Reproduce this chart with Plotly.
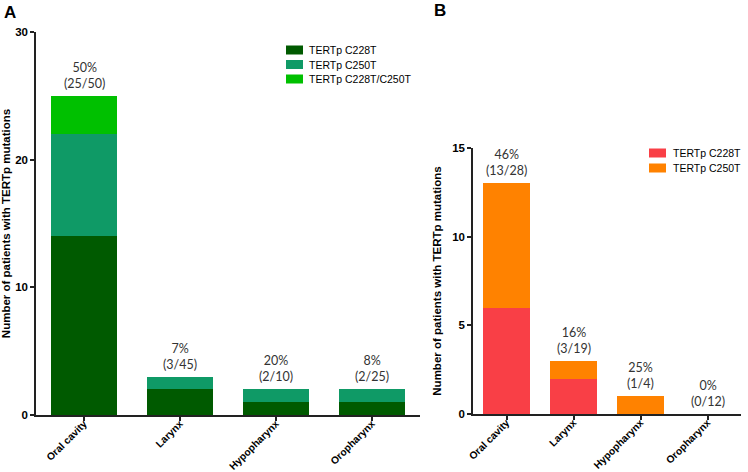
import plotly.graph_objects as go

W, H = 748, 472

sites = ["Oral cavity", "Larynx", "Hypopharynx", "Oropharynx"]

# Panel A
a_names = ["TERTp C228T", "TERTp C250T", "TERTp C228T/C250T"]
a_c228t = [14, 2, 1, 1]
a_c250t = [8, 1, 1, 1]
a_both = [3, 0, 0, 0]
a_pct = ["50%", "7%", "20%", "8%"]
a_frac = ["(25/50)", "(3/45)", "(2/10)", "(2/25)"]

# Panel B
b_names = ["TERTp C228T", "TERTp C250T"]
b_c228t = [6, 2, 0, 0]
b_c250t = [7, 1, 1, 0]
b_pct = ["46%", "16%", "25%", "0%"]
b_frac = ["(13/28)", "(3/19)", "(1/4)", "(0/12)"]

col_a = ["#005a00", "#0f9a66", "#00c000"]
col_b = ["#f93f46", "#ff8200"]


def px_x(p):
    return p / W


def px_y(p):
    return (H - p) / H


fig = go.Figure()
for vals, nm, c in zip([a_c228t, a_c250t, a_both], a_names, col_a):
    fig.add_trace(go.Bar(x=sites, y=vals, name=nm, marker_color=c, xaxis="x", yaxis="y",
                         width=0.69, marker_line_width=0, showlegend=False))
for vals, nm, c in zip([b_c228t, b_c250t], b_names, col_b):
    fig.add_trace(go.Bar(x=sites, y=vals, name=nm, marker_color=c, xaxis="x2", yaxis="y2",
                         width=0.69, marker_line_width=0, showlegend=False))

ann_font = dict(family="Lato, Open Sans, sans-serif", size=12.5, color="#333333")
annotations = []
for i, s in enumerate(sites):
    tot = a_c228t[i] + a_c250t[i] + a_both[i]
    annotations.append(dict(x=s, y=tot, xref="x", yref="y", text=a_pct[i] + "<br>" + a_frac[i],
                            showarrow=False, yanchor="bottom", yshift=3, font=ann_font))
    totb = b_c228t[i] + b_c250t[i]
    annotations.append(dict(x=s, y=totb, xref="x2", yref="y2", text=b_pct[i] + "<br>" + b_frac[i],
                            showarrow=False, yanchor="bottom", yshift=3, font=ann_font))

panel_font = dict(family="Arial, Liberation Sans", size=17, color="#000")
annotations.append(dict(x=px_x(2), y=px_y(1), xref="paper", yref="paper", text="<b>A</b>",
                        showarrow=False, xanchor="left", yanchor="top", font=panel_font))
annotations.append(dict(x=px_x(432), y=px_y(-1), xref="paper", yref="paper", text="<b>B</b>",
                        showarrow=False, xanchor="left", yanchor="top", font=panel_font))

# manual legends (swatch + label)
leg_font = dict(family="Arial, Liberation Sans", size=10.5, color="#000")
shapes = []
for k, (nm, c) in enumerate(zip(a_names, col_a)):
    yc = 50 + 14.5 * k
    shapes.append(dict(type="rect", xref="paper", yref="paper", x0=px_x(286), x1=px_x(303),
                       y0=px_y(yc + 4.5), y1=px_y(yc - 4.5), fillcolor=c, line_width=0))
    annotations.append(dict(x=px_x(307), y=px_y(yc), xref="paper", yref="paper", text=nm,
                            showarrow=False, xanchor="left", yanchor="middle", font=leg_font))
for k, (nm, c) in enumerate(zip(b_names, col_b)):
    yc = 153 + 15 * k
    shapes.append(dict(type="rect", xref="paper", yref="paper", x0=px_x(649), x1=px_x(666),
                       y0=px_y(yc + 4.5), y1=px_y(yc - 4.5), fillcolor=c, line_width=0))
    annotations.append(dict(x=px_x(671), y=px_y(yc), xref="paper", yref="paper", text=nm,
                            showarrow=False, xanchor="left", yanchor="middle", font=leg_font))

tick_font = dict(family="Arial, Liberation Sans", size=11.5, color="#000", weight="bold")
cat_font = dict(family="Arial, Liberation Sans", size=10.2, color="#000", weight="bold")
title_font = dict(family="Arial, Liberation Sans", size=11.5, color="#000", weight="bold")
axis_common = dict(showline=True, linecolor="#222", linewidth=1.5, ticks="outside",
                   ticklen=4, tickwidth=1.5, tickcolor="#222", showgrid=False, zeroline=False)

fig.update_layout(
    width=W, height=H, margin=dict(l=0, r=0, t=0, b=0, autoexpand=False),
    paper_bgcolor="white", plot_bgcolor="white",
    barmode="stack", bargap=0.31, showlegend=False,
    xaxis=dict(domain=[px_x(36), px_x(420)], anchor="y", tickangle=-45, range=[-0.5, 3.5],
               tickfont=cat_font, ticklabeloverflow="allow", ticklabelstandoff=-7, **axis_common),
    yaxis=dict(domain=[px_y(415), px_y(32)], anchor="x", range=[0, 30], tickvals=[0, 10, 20, 30],
               tickfont=tick_font,
               title=dict(text="Number of patients with TERTp mutations", standoff=8, font=title_font),
               **axis_common),
    xaxis2=dict(domain=[px_x(473), px_x(741)], anchor="y2", tickangle=-45, range=[-0.5, 3.5],
                tickfont=cat_font, ticklabeloverflow="allow", ticklabelstandoff=-7, **axis_common),
    yaxis2=dict(domain=[px_y(414), px_y(148)], anchor="x2", range=[0, 15], tickvals=[0, 5, 10, 15],
                tickfont=tick_font,
                title=dict(text="Number of patients with TERTp mutations", standoff=8, font=title_font),
                **axis_common),
    annotations=annotations,
    shapes=shapes,
)

fig.write_html("out.html")
